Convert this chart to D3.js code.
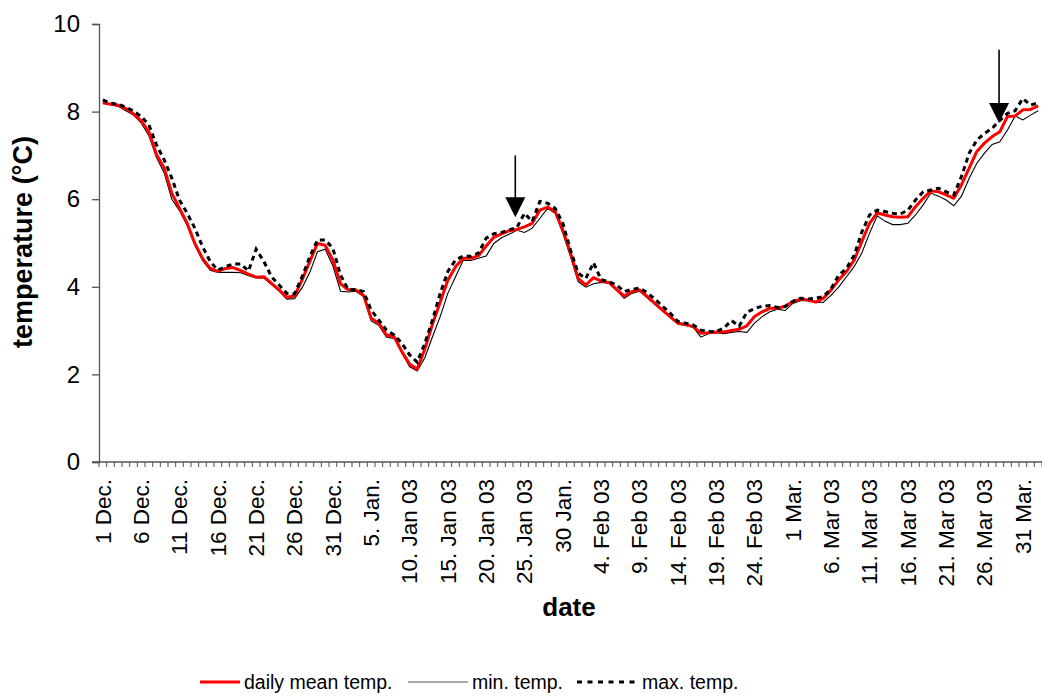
<!DOCTYPE html>
<html>
<head>
<meta charset="utf-8">
<script src="https://cdn.jsdelivr.net/npm/d3@7/dist/d3.min.js"></script>
<style>
  html, body { margin: 0; padding: 0; background: #fff; }
  svg { display: block; font-family: "Liberation Sans", Arial, sans-serif; }
</style>
</head>
<body>
<svg id="chart" width="1042" height="696"></svg>
<script>
// ---- data (1 Dec 2002 .. 2 Apr 2003, one value per day) ----
const tickLabels = ["1 Dec.", "6 Dec.", "11 Dec.", "16 Dec.", "21 Dec.", "26 Dec.", "31 Dec.",
  "5. Jan.", "10. Jan 03", "15. Jan 03", "20. Jan 03", "25. Jan 03", "30 Jan.",
  "4. Feb 03", "9. Feb 03", "14. Feb 03", "19. Feb 03", "24. Feb 03", "1 Mar.",
  "6. Mar 03", "11. Mar 03", "16. Mar 03", "21. Mar 03", "26. Mar 03", "31 Mar."];

const meanTemp = [
  8.20, 8.17, 8.15, 8.07, 7.95, 7.79, 7.54, 7.02, 6.71, 6.14,
  5.79, 5.45, 4.99, 4.65, 4.42, 4.35, 4.42, 4.44, 4.37, 4.29,
  4.22, 4.23, 4.08, 3.93, 3.76, 3.79, 4.16, 4.58, 4.99, 4.95,
  4.61, 4.07, 3.93, 3.93, 3.81, 3.28, 3.17, 2.90, 2.86, 2.52,
  2.24, 2.12, 2.58, 3.15, 3.65, 4.15, 4.46, 4.65, 4.65, 4.71,
  4.93, 5.13, 5.21, 5.28, 5.31, 5.37, 5.45, 5.75, 5.82, 5.72,
  5.30, 4.77, 4.19, 4.04, 4.21, 4.13, 4.10, 3.94, 3.79, 3.89,
  3.93, 3.78, 3.62, 3.47, 3.32, 3.17, 3.14, 3.09, 2.94, 2.95,
  2.97, 2.97, 3.00, 3.03, 3.11, 3.32, 3.43, 3.51, 3.51, 3.56,
  3.66, 3.72, 3.70, 3.65, 3.74, 3.93, 4.16, 4.35, 4.61, 5.03,
  5.45, 5.69, 5.64, 5.60, 5.59, 5.60, 5.83, 6.02, 6.19, 6.17,
  6.10, 6.02, 6.33, 6.71, 7.09, 7.28, 7.43, 7.54, 7.89, 7.90,
  8.04, 8.05, 8.13];

const minTemp = [
  8.20, 8.16, 8.12, 8.02, 7.92, 7.74, 7.45, 6.95, 6.60, 6.00,
  5.74, 5.40, 4.95, 4.60, 4.38, 4.33, 4.33, 4.33, 4.32, 4.25,
  4.20, 4.20, 4.05, 3.90, 3.72, 3.73, 3.98, 4.33, 4.80, 4.86,
  4.48, 3.90, 3.88, 3.90, 3.78, 3.22, 3.12, 2.85, 2.82, 2.50,
  2.18, 2.08, 2.38, 2.86, 3.32, 3.85, 4.23, 4.60, 4.60, 4.65,
  4.70, 4.99, 5.12, 5.20, 5.29, 5.24, 5.34, 5.56, 5.79, 5.68,
  5.22, 4.69, 4.12, 3.99, 4.07, 4.10, 4.08, 3.92, 3.74, 3.85,
  3.90, 3.75, 3.60, 3.45, 3.30, 3.15, 3.12, 3.08, 2.85, 2.93,
  2.95, 2.93, 2.96, 2.98, 2.96, 3.17, 3.32, 3.43, 3.49, 3.46,
  3.62, 3.68, 3.68, 3.64, 3.65, 3.81, 4.00, 4.23, 4.46, 4.77,
  5.22, 5.62, 5.50, 5.42, 5.42, 5.45, 5.64, 5.87, 6.14, 6.07,
  5.98, 5.85, 6.07, 6.48, 6.82, 7.05, 7.25, 7.31, 7.58, 7.90,
  7.81, 7.92, 8.02];

const maxTemp = [
  8.27, 8.19, 8.17, 8.10, 8.01, 7.89, 7.70, 7.24, 6.90, 6.48,
  5.98, 5.68, 5.34, 4.92, 4.58, 4.38, 4.46, 4.52, 4.52, 4.36,
  4.86, 4.58, 4.23, 4.04, 3.85, 3.84, 4.23, 4.69, 5.07, 5.07,
  4.88, 4.27, 3.94, 3.94, 3.89, 3.47, 3.24, 3.01, 2.90, 2.71,
  2.45, 2.28, 2.71, 3.24, 3.85, 4.35, 4.61, 4.70, 4.70, 4.77,
  5.11, 5.21, 5.24, 5.30, 5.35, 5.68, 5.49, 5.95, 5.91, 5.79,
  5.45, 4.84, 4.31, 4.19, 4.55, 4.16, 4.12, 4.04, 3.89, 3.94,
  3.97, 3.87, 3.72, 3.56, 3.40, 3.21, 3.17, 3.13, 3.01, 2.98,
  2.98, 3.06, 3.23, 3.10, 3.42, 3.50, 3.56, 3.57, 3.53, 3.55,
  3.67, 3.74, 3.72, 3.74, 3.78, 3.96, 4.27, 4.42, 4.72, 5.25,
  5.64, 5.75, 5.72, 5.68, 5.66, 5.75, 5.98, 6.17, 6.21, 6.25,
  6.17, 6.10, 6.52, 7.05, 7.35, 7.50, 7.62, 7.80, 7.96, 8.02,
  8.30, 8.15, 8.20];

const yTicks = [0, 2, 4, 6, 8, 10];
const labelEvery = 5;
// arrows: [day position (index), value at tip, value at tail]
const arrowDays = [53.8, 116.9];
const arrowTips = [5.59, 7.74];
const arrowTails = [7.0, 9.41];

const seriesNames = ["daily mean temp.", "min. temp.", "max. temp."];

// ---- layout ----
const svg = d3.select("#chart");
const W = 1042, H = 696;
const plot = { left: 99, top: 24, right: 1042, bottom: 462 };
const nDays = meanTemp.length;

const x = d3.scaleBand().domain(d3.range(nDays)).range([plot.left, plot.right]).padding(0);
const xc = i => x(i) + x.bandwidth() / 2;
const xf = v => plot.left + x.step() * (v + 0.5);
const y = d3.scaleLinear().domain([0, 10]).range([plot.bottom, plot.top]);

svg.append("rect").attr("width", W).attr("height", H).attr("fill", "#fff");

// y axis
const yAxis = d3.axisLeft(y).tickValues(yTicks).tickSize(7).tickPadding(12).tickFormat(d3.format("d"));
const gy = svg.append("g").attr("transform", `translate(${plot.left},0)`).call(yAxis);
gy.select(".domain").attr("stroke", "#555").attr("stroke-width", 1.3);
gy.selectAll(".tick line").attr("stroke", "#555").attr("stroke-width", 1.3);
gy.selectAll(".tick text").attr("font-size", 24).attr("fill", "#000")
  .attr("font-family", "Liberation Sans, Arial, sans-serif");

// x axis line + ticks at category boundaries
svg.append("line").attr("x1", plot.left - 7).attr("x2", plot.right)
  .attr("y1", plot.bottom).attr("y2", plot.bottom).attr("stroke", "#555").attr("stroke-width", 1.3);
svg.append("g").selectAll("line").data(d3.range(nDays + 1)).join("line")
  .attr("x1", k => plot.left + k * x.step()).attr("x2", k => plot.left + k * x.step())
  .attr("y1", plot.bottom).attr("y2", plot.bottom + 5)
  .attr("stroke", "#555").attr("stroke-width", 1);

// x labels
svg.append("g").selectAll("text").data(tickLabels).join("text")
  .attr("transform", (d, k) => `translate(${xc(k * labelEvery)},479) rotate(-90)`)
  .attr("dy", "0.35em")
  .attr("text-anchor", "end")
  .attr("font-size", 22.5)
  .attr("fill", "#000")
  .text(d => d);

// axis titles
svg.append("text").attr("transform", "translate(32,242) rotate(-90)")
  .attr("text-anchor", "middle").attr("font-size", 27).attr("font-weight", "bold")
  .text("temperature (°C)");
svg.append("text").attr("x", 569).attr("y", 616)
  .attr("text-anchor", "middle").attr("font-size", 26).attr("font-weight", "bold")
  .text("date");

// lines
const line = d3.line().x((d, i) => xc(i)).y(d => y(d));
const gLines = svg.append("g");
gLines.append("path").datum(minTemp).attr("d", line)
  .attr("fill", "none").attr("stroke", "#000").attr("stroke-width", 1.1);
gLines.append("path").datum(meanTemp).attr("d", line)
  .attr("fill", "none").attr("stroke", "#ff0000").attr("stroke-width", 3).attr("stroke-linejoin", "round");
gLines.append("path").datum(maxTemp).attr("d", line)
  .attr("fill", "none").attr("stroke", "#000").attr("stroke-width", 3)
  .attr("stroke-dasharray", "5,4");

// arrows
const gArr = svg.append("g");
arrowDays.forEach((d, k) => {
  const ax = xf(d), tipY = y(arrowTips[k]), tailY = y(arrowTails[k]);
  gArr.append("line").attr("x1", ax).attr("x2", ax).attr("y1", tailY).attr("y2", tipY - 15)
    .attr("stroke", "#000").attr("stroke-width", 1.6);
  gArr.append("path")
    .attr("d", `M${ax - 10},${tipY - 20}L${ax + 10},${tipY - 20}L${ax},${tipY}Z`)
    .attr("fill", "#000");
});

// legend
const legendItems = [
  { name: seriesNames[0], x0: 200, x1: 240, stroke: "#ff0000", w: 3, dash: null },
  { name: seriesNames[1], x0: 408, x1: 468, stroke: "#555", w: 1.2, dash: null },
  { name: seriesNames[2], x0: 577, x1: 638, stroke: "#000", w: 3, dash: "5,5.5" }
];
const gLeg = svg.append("g");
legendItems.forEach(it => {
  gLeg.append("line").attr("x1", it.x0).attr("x2", it.x1).attr("y1", 682).attr("y2", 682)
    .attr("stroke", it.stroke).attr("stroke-width", it.w).attr("stroke-dasharray", it.dash);
  gLeg.append("text").attr("x", it.x1 + 4).attr("y", 689).attr("font-size", 19.5)
    .attr("fill", "#000").text(it.name);
});
</script>
</body>
</html>
